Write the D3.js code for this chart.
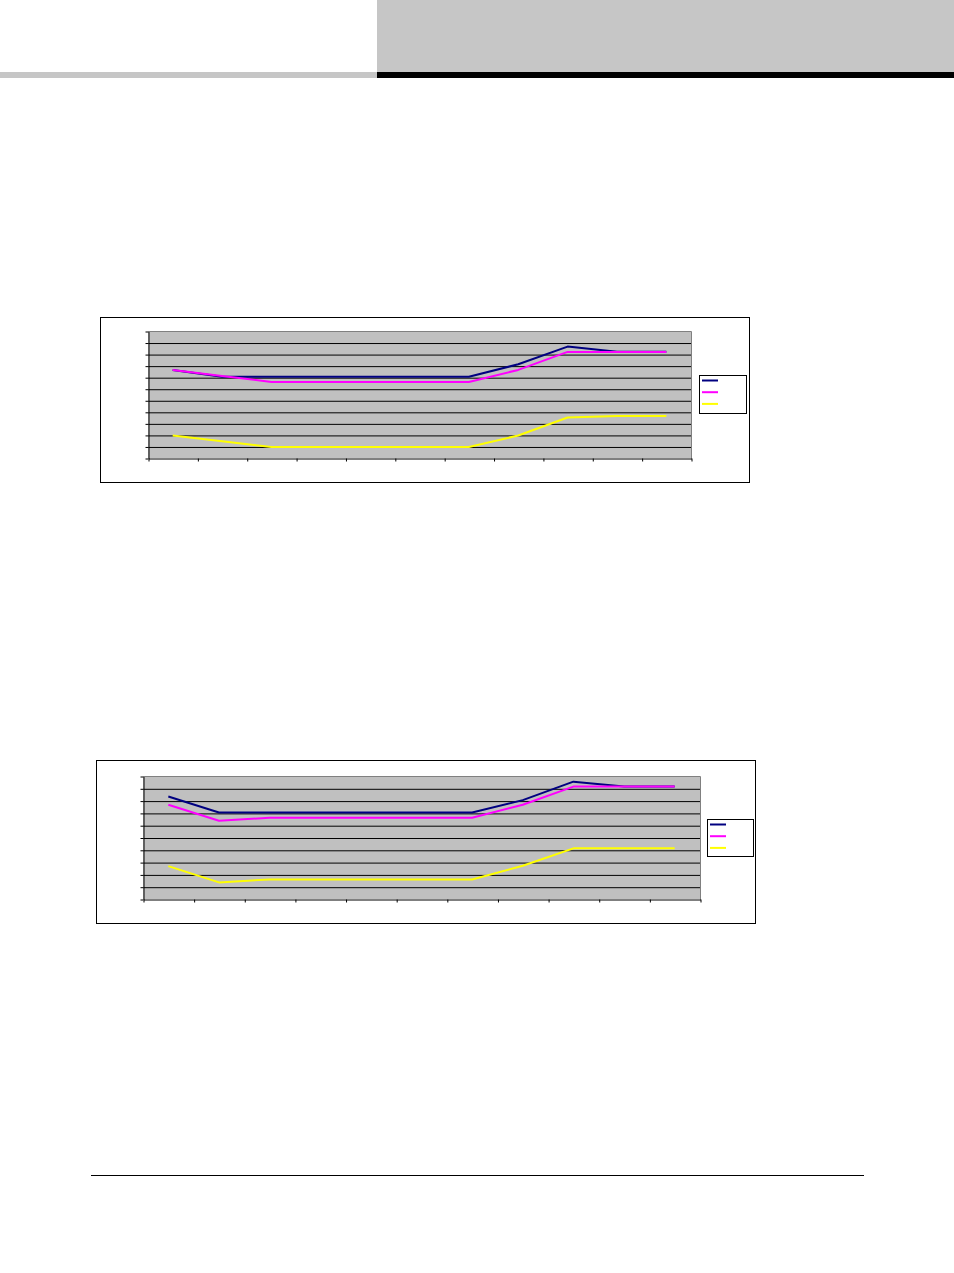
<!DOCTYPE html>
<html>
<head>
<meta charset="utf-8">
<script src="https://cdn.jsdelivr.net/npm/d3@7/dist/d3.min.js"></script>
<style>
  html, body { margin: 0; padding: 0; background: #fff; }
  svg { display: block; }
</style>
</head>
<body>
<svg id="page" width="954" height="1273"></svg>
<script>
// ---- Data ----
const categories = ["1", "2", "3", "4", "5", "6", "7", "8", "9", "10", "11"];
const seriesNames = ["Series 1", "Series 2", "Series 3"];

// Chart 1 (y axis 0–110, step 10)
const chart1Blue    = [76.3, 70.3, 70.3, 70.3, 70.3, 70.3, 70.3, 81.2, 96.5, 92.1, 92.1];
const chart1Magenta = [76.3, 71.1, 65.9, 65.9, 65.9, 65.9, 65.9, 76.3, 91.9, 91.9, 91.9];
const chart1Yellow  = [19.5, 14.5, 9.5, 9.5, 9.5, 9.5, 9.5, 19.5, 35.1, 36.3, 36.3];
const chart1YTicks  = [0, 10, 20, 30, 40, 50, 60, 70, 80, 90, 100, 110];

// Chart 2 (y axis 0–100, step 10)
const chart2Blue    = [83.3, 70.3, 70.3, 70.3, 70.3, 70.3, 70.3, 80.4, 95.4, 91.4, 91.4];
const chart2Magenta = [76.6, 63.6, 66.0, 66.0, 66.0, 66.0, 66.0, 76.6, 91.4, 91.4, 91.4];
const chart2Yellow  = [26.7, 13.5, 15.9, 15.9, 15.9, 15.9, 15.9, 27.0, 41.2, 41.2, 41.2];
const chart2YTicks  = [0, 10, 20, 30, 40, 50, 60, 70, 80, 90, 100];

const colors = ["#000080", "#ff00ff", "#ffff00"];

const svg = d3.select("#page");

// ---- Page decorations ----
svg.append("rect").attr("x", 377).attr("y", 0).attr("width", 577).attr("height", 72).attr("fill", "#c6c6c6");
svg.append("rect").attr("x", 0).attr("y", 72).attr("width", 377).attr("height", 6).attr("fill", "#c6c6c6");
svg.append("rect").attr("x", 377).attr("y", 72).attr("width", 577).attr("height", 6).attr("fill", "#000");
svg.append("line").attr("x1", 91).attr("x2", 864).attr("y1", 1175.5).attr("y2", 1175.5)
  .attr("stroke", "#000").attr("stroke-width", 1);

function drawChart(cfg) {
  const g = svg.append("g");
  // outer frame
  g.append("rect")
    .attr("x", cfg.box.x + 0.5).attr("y", cfg.box.y + 0.5)
    .attr("width", cfg.box.w).attr("height", cfg.box.h)
    .attr("fill", "#fff").attr("stroke", "#000").attr("stroke-width", 1);

  const p = cfg.plot;
  const n = categories.length;
  const x = d3.scaleLinear().domain([0, n]).range([p.x0, p.x1]);
  const yMax = cfg.yTicks[cfg.yTicks.length - 1];
  const y = d3.scaleLinear().domain([0, yMax]).range([p.y1, p.y0]);

  // plot background
  g.append("rect").attr("x", p.x0).attr("y", p.y0)
    .attr("width", p.x1 - p.x0).attr("height", p.y1 - p.y0)
    .attr("fill", "#c0c0c0");

  // gridlines
  const grid = g.append("g").attr("transform", `translate(${p.x0 + 0.5},0.5)`)
    .call(d3.axisLeft(y).tickValues(cfg.yTicks.slice(1, -1)).tickSize(-(p.x1 - p.x0)).tickFormat(""));
  grid.select(".domain").remove();
  grid.selectAll("line").attr("stroke", "#000");

  // plot border top/right (gray)
  g.append("path")
    .attr("d", `M${p.x0 + 0.5},${p.y0 + 0.5}H${p.x1 + 0.5}V${p.y1 + 0.5}`)
    .attr("fill", "none").attr("stroke", "#808080").attr("stroke-width", 1);

  // y axis
  const ya = g.append("g").attr("transform", `translate(${p.x0 + 0.5},0.5)`)
    .call(d3.axisLeft(y).tickValues(cfg.yTicks).tickSize(3).tickSizeOuter(0).tickFormat(""));
  ya.selectAll("path,line").attr("stroke", "#000");

  // x axis
  const xa = g.append("g").attr("transform", `translate(0.5,${p.y1 + 0.5})`)
    .call(d3.axisBottom(x).tickValues(d3.range(n + 1)).tickSize(3).tickSizeOuter(0).tickFormat(""));
  xa.selectAll("path,line").attr("stroke", "#000");

  // lines
  const line = d3.line().x((d, i) => x(i + 0.5)).y(d => y(d));
  cfg.series.forEach((s, k) => {
    g.append("path").datum(s)
      .attr("d", line)
      .attr("fill", "none")
      .attr("stroke", colors[k])
      .attr("stroke-width", 2)
      .attr("stroke-linejoin", "round");
  });

  // legend
  const L = cfg.legend;
  g.append("rect").attr("x", L.x + 0.5).attr("y", L.y + 0.5)
    .attr("width", L.w).attr("height", L.h)
    .attr("fill", "#fff").attr("stroke", "#000").attr("stroke-width", 1);
  seriesNames.forEach((name, k) => {
    g.append("line")
      .attr("x1", L.x + 3).attr("x2", L.x + 19)
      .attr("y1", L.y + 5.5 + k * 11.7).attr("y2", L.y + 5.5 + k * 11.7)
      .attr("stroke", colors[k]).attr("stroke-width", 2);
  });
}

drawChart({
  box: { x: 100, y: 317, w: 649, h: 165 },
  plot: { x0: 148, x1: 691, y0: 331, y1: 458 },
  yTicks: chart1YTicks,
  series: [chart1Blue, chart1Magenta, chart1Yellow],
  legend: { x: 699, y: 375, w: 47, h: 38 }
});

drawChart({
  box: { x: 96, y: 760, w: 659, h: 163 },
  plot: { x0: 143, x1: 700, y0: 776, y1: 899 },
  yTicks: chart2YTicks,
  series: [chart2Blue, chart2Magenta, chart2Yellow],
  legend: { x: 707, y: 819, w: 46, h: 37 }
});
</script>
</body>
</html>
